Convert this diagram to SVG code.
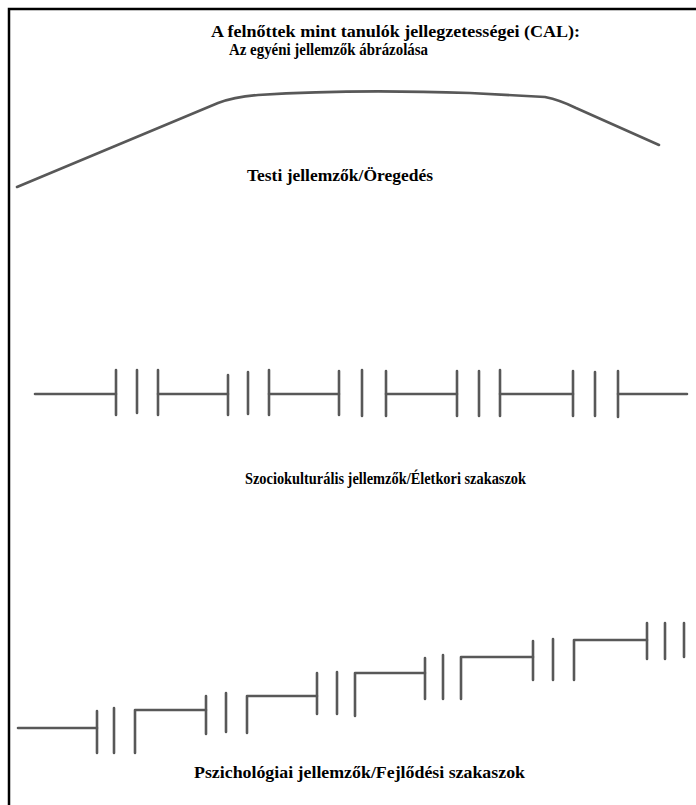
<svg xmlns="http://www.w3.org/2000/svg" width="696" height="805" viewBox="0 0 696 805">
<style>
.ink{fill:none;stroke:#585858;stroke-width:2.6;stroke-linecap:round;stroke-linejoin:round}
.lbl{font-family:"Liberation Serif","Times New Roman",serif;font-weight:bold;font-size:17px;fill:#000}
.frame{fill:none;stroke:#000;stroke-width:2.5}
</style>
<rect width="696" height="805" fill="#fff"/>
<g id="frame"><path class="frame" d="M9,805 V9 H696"/></g>
<g id="title">
<text class="lbl" x="211" y="37" textLength="369" lengthAdjust="spacingAndGlyphs">A felnőttek mint tanulók jellegzetességei (CAL):</text>
<text class="lbl" x="229" y="55" textLength="199" lengthAdjust="spacingAndGlyphs">Az egyéni jellemzők ábrázolása</text>
</g>
<g id="connectors">
<g id="curve-aging">
<path class="ink" d="M17,187 L218,103 Q234,97 258,95 Q350,89 470,93 L545,97 Q560,100 576,108 L659,145"/>
</g>
<g id="line-life-stages">
<path class="ink" d="M35,394 H116 M158,394 H228 M269,394 H339 M386,394 H457 M500,394 H573 M618,394 H687"/>
<path class="ink" d="M116,370 V415 M137,370 V413 M158,370 V415 M228,375 V415 M248,372 V414 M269,370 V415 M339,371 V415 M362,370 V416 M386,371 V416 M457,371 V416 M479,371 V416 M500,370 V416 M573,371 V416 M595,372 V416 M618,371 V417"/>
</g>
<g id="stairs-development">
<path class="ink" d="M18,728 H97 M135,753 V710 H206 M247,733 V696 H317 M355,716 V673 H425 M461,699 V657 H533 M574,680 V640 H647"/>
<path class="ink" d="M97,711 V753 M114,708 V753 M206,696 V734 M226,693 V732 M317,673 V714 M337,672 V714 M425,658 V699 M443,655 V699 M533,641 V680 M553,639 V680 M647,623 V659 M665,623 V659 M684,623 V657"/>
</g>
</g>
<g id="label-physical"><text class="lbl" x="247" y="181" textLength="186" lengthAdjust="spacingAndGlyphs">Testi jellemzők/Öregedés</text></g>
<g id="label-sociocultural"><text class="lbl" x="245" y="484" textLength="281" lengthAdjust="spacingAndGlyphs">Szociokulturális jellemzők/Életkori szakaszok</text></g>
<g id="label-psychological"><text class="lbl" x="194" y="778" textLength="331" lengthAdjust="spacingAndGlyphs">Pszichológiai jellemzők/Fejlődési szakaszok</text></g>
</svg>
